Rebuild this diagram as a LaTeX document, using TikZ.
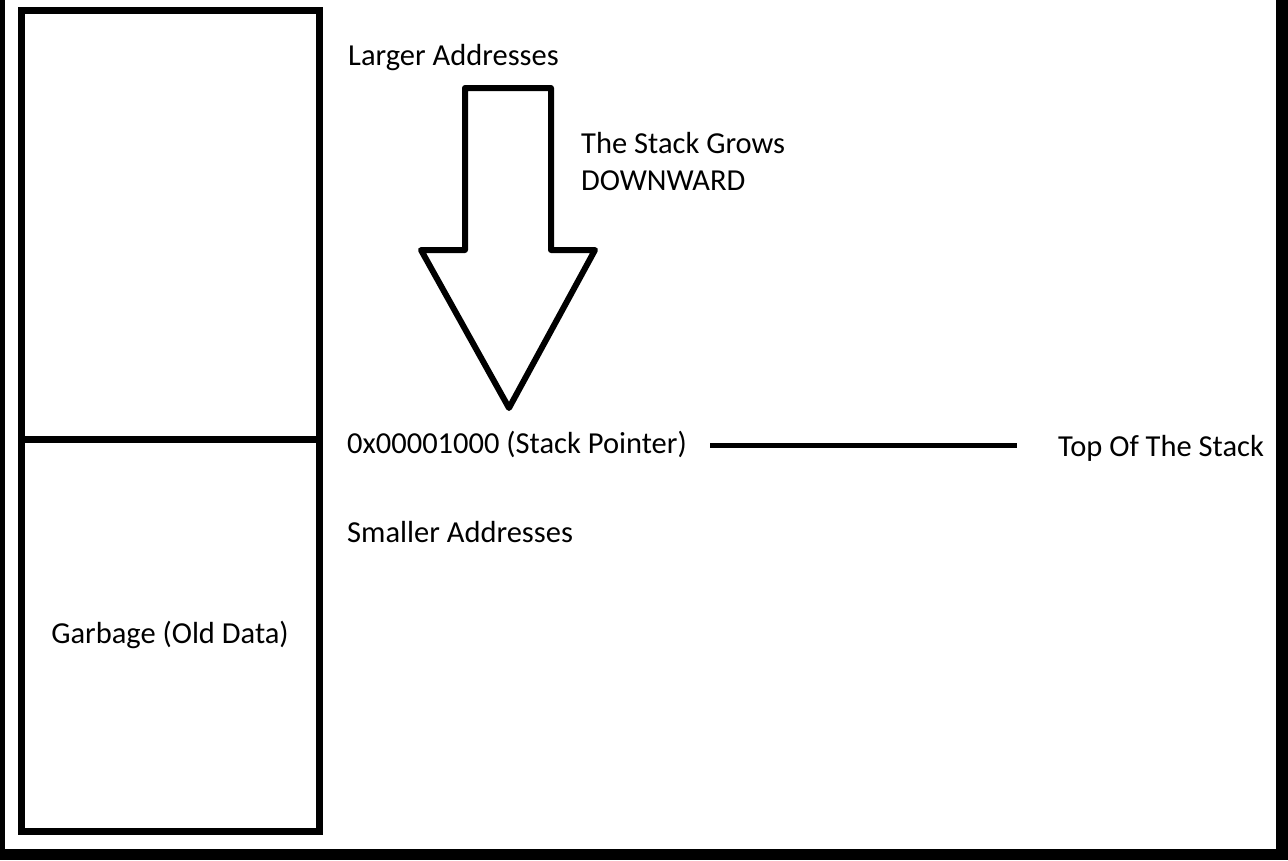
\documentclass[tikz,border=0pt]{standalone}
\usepackage{fontspec}
\setmainfont{Carlito}
\begin{document}
\begin{tikzpicture}[x=1pt,y=-1pt,
  lbl/.style={inner sep=0pt, anchor=base west, font=\fontsize{30.5}{36}\selectfont},
  membox/.style={draw, line width=7pt, inner sep=0pt, font=\fontsize{30.5}{36}\selectfont},
  bigarrow/.style={draw, line width=6pt, line join=round},
  tosline/.style={line width=5pt}]
\useasboundingbox (0,0) rectangle (1288,860);
% frame strips
\fill (0,0) rectangle (5,860);
\fill (0,849) rectangle (1288,860);
\fill (1276,0) rectangle (1288,860);
% memory boxes
\node[membox, minimum width=298pt, minimum height=429pt] (upper) at (170,224.5) {};
\node[membox, minimum width=298pt, minimum height=392pt] (lower) at (170,635) {Garbage (Old Data)};
% arrow
\draw[bigarrow] (465,88) -- (551,88) -- (551,250) -- (595,250) -- (509,408) -- (421,250) -- (465,250) -- cycle;
% labels
\node[lbl] (larger) at (348,65) {Larger Addresses};
\node[lbl] (grows) at (581,153) {The Stack Grows};
\node[lbl] (down) at (581,190) {DOWNWARD};
\node[lbl] (sp) at (347,453) {0x00001000 (Stack Pointer)};
\node[lbl] (smaller) at (347,542) {Smaller Addresses};
\node[lbl] (tos) at (1058,456) {Top Of The Stack};
% connector
\coordinate (la) at (710,445);
\coordinate (lb) at (1017,445);
\draw[tosline] (la) -- (lb);
\end{tikzpicture}
\end{document}
